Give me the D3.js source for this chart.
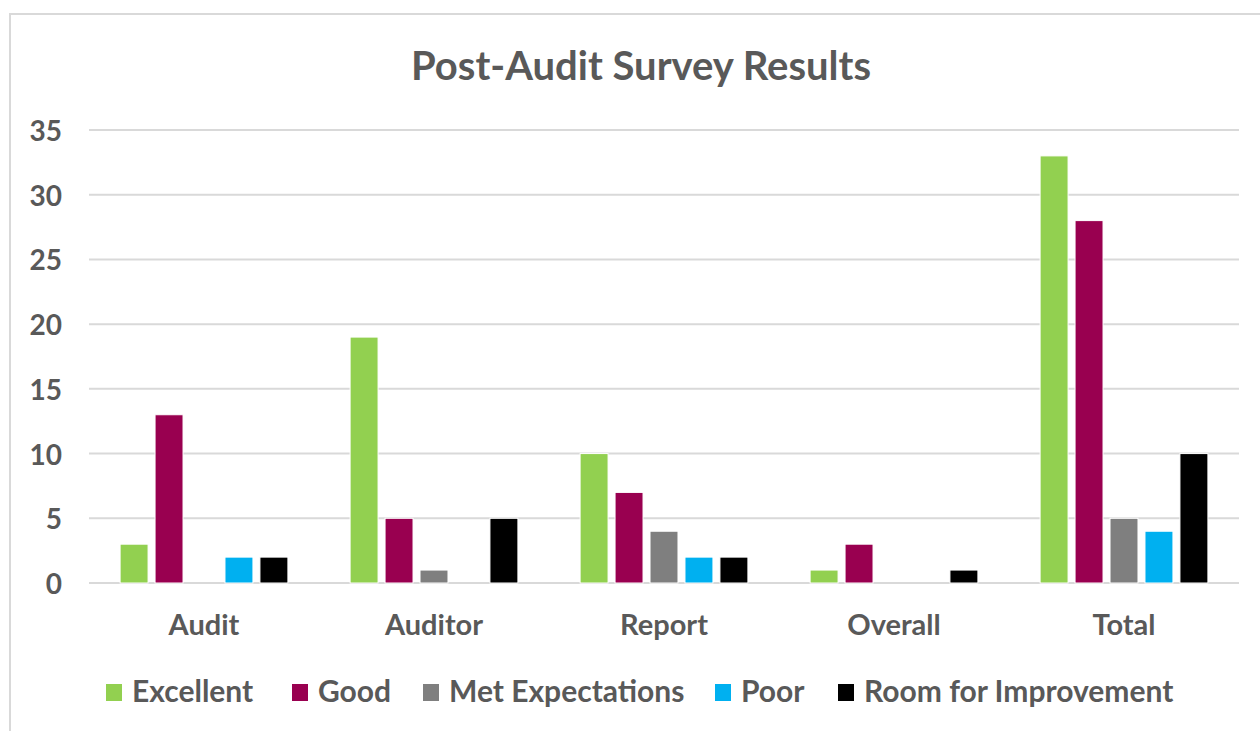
<!DOCTYPE html>
<html>
<head>
<meta charset="utf-8">
<script src="https://cdn.jsdelivr.net/npm/d3@7"></script>
<style>
  body { margin: 0; background: #fff; }
  svg { display: block; }
  text { font-family: Lato, "Open Sans", sans-serif; font-weight: bold; fill: #595959; }
</style>
</head>
<body>
<svg id="lienzo" width="1260" height="731"></svg>
<script>
// datos del grafico
const categorias = ['Audit', 'Auditor', 'Report', 'Overall', 'Total'];
const series = ['Excellent', 'Good', 'Met Expectations', 'Poor', 'Room for Improvement'];
const excellent = [3, 19, 10, 1, 33];
const good = [13, 5, 7, 3, 28];
const metExpectations = [0, 1, 4, 0, 5];
const poor = [2, 0, 2, 0, 4];
const roomForImprovement = [2, 5, 2, 1, 10];
const yTicks = [0, 5, 10, 15, 20, 25, 30, 35];
const colores = ['#92D050', '#990050', '#7F7F7F', '#00B0F0', '#000000'];

const valores = [excellent, good, metExpectations, poor, roomForImprovement];

const svg = d3.select('#lienzo');

// marco del grafico
svg.append('rect')
    .attr('x', 10)
    .attr('y', 14)
    .attr('width', 1400)
    .attr('height', 900)
    .attr('fill', 'none')
    .attr('stroke', '#d9d9d9')
    .attr('stroke-width', 2);

// titulo
svg.append('text')
    .attr('x', 641)
    .attr('y', 80)
    .attr('text-anchor', 'middle')
    .attr('font-size', '40px')
    .text('Post-Audit Survey Results');

// escalas
const x0 = d3.scaleBand()
    .domain(categorias)
    .range([89, 1239])
    .paddingInner(0.24)
    .paddingOuter(0.12);

const x1 = d3.scaleBand()
    .domain(series)
    .range([0, x0.bandwidth()])
    .paddingInner(0.2)
    .paddingOuter(0.1);

const y = d3.scaleLinear()
    .domain([0, 35])
    .range([583, 130]);

// lineas de la cuadricula
svg.append('g')
    .selectAll('line')
    .data(yTicks)
    .enter()
    .append('line')
    .attr('x1', 89)
    .attr('x2', 1239)
    .attr('y1', d => y(d))
    .attr('y2', d => y(d))
    .attr('stroke', '#d9d9d9')
    .attr('stroke-width', 2);

// etiquetas del eje y
svg.append('g')
    .selectAll('text')
    .data(yTicks)
    .enter()
    .append('text')
    .attr('x', 62)
    .attr('y', d => y(d))
    .attr('text-anchor', 'end')
    .attr('dominant-baseline', 'central')
    .attr('font-size', '28px')
    .text(d => d);

// barras
const grupos = svg.append('g')
    .selectAll('g')
    .data(categorias)
    .enter()
    .append('g')
    .attr('transform', d => `translate(${x0(d)},0)`);

grupos.selectAll('rect')
    .data((d, i) => series.map((s, j) => ({ serie: s, valor: valores[j][i], color: colores[j] })))
    .enter()
    .filter(d => d.valor > 0)
    .append('rect')
    .attr('x', d => x1(d.serie))
    .attr('y', d => y(d.valor))
    .attr('width', x1.bandwidth())
    .attr('height', d => y(0) - y(d.valor))
    .attr('fill', d => d.color)
    .attr('stroke', '#fff')
    .attr('stroke-width', 1);

// etiquetas de categorias
svg.append('g')
    .selectAll('text')
    .data(categorias)
    .enter()
    .append('text')
    .attr('x', d => x0(d) + x0.bandwidth() / 2)
    .attr('y', 635)
    .attr('text-anchor', 'middle')
    .attr('font-size', '29px')
    .text(d => d);

// leyenda
const leyendaX = [106, 292, 423, 715, 838];
const leyenda = svg.append('g')
    .selectAll('g')
    .data(series)
    .enter()
    .append('g')
    .attr('transform', (d, i) => `translate(${leyendaX[i]},684)`);

leyenda.append('rect')
    .attr('width', 16)
    .attr('height', 17)
    .attr('fill', (d, i) => colores[i]);

leyenda.append('text')
    .attr('x', 26)
    .attr('y', 18)
    .attr('font-size', '30px')
    .text(d => d);
</script>
</body>
</html>
